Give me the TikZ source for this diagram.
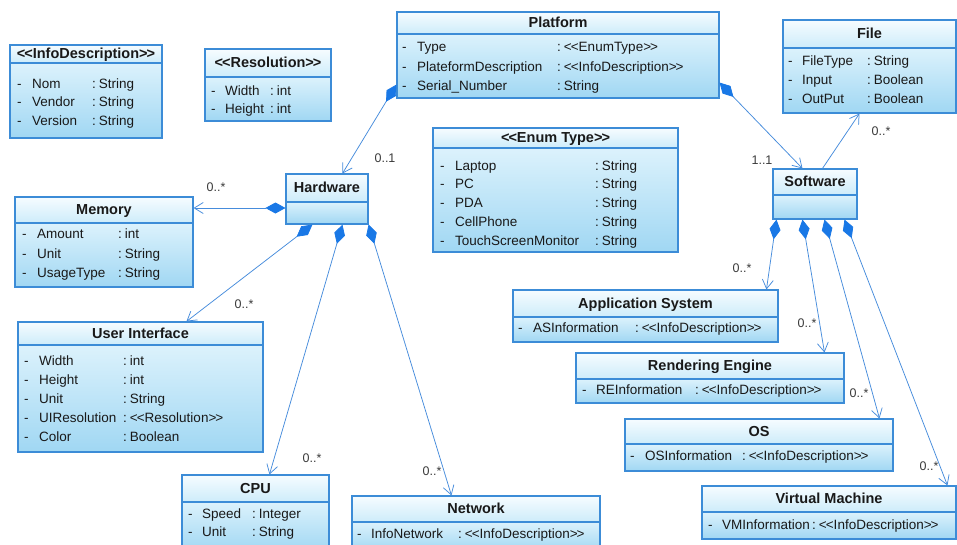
\documentclass[tikz,border=0pt]{standalone}
\usepackage{fontspec}
\setmainfont{Liberation Sans}
\usetikzlibrary{arrows.meta,fit}
\definecolor{bordc}{RGB}{60,140,215}
\definecolor{linec}{RGB}{70,140,220}
\definecolor{diamc}{RGB}{25,120,230}
\definecolor{hdtop}{RGB}{246,252,255}
\definecolor{hdbot}{RGB}{205,236,250}
\definecolor{bdtop}{RGB}{220,242,252}
\definecolor{bdbot}{RGB}{160,215,243}
\definecolor{txtc}{RGB}{25,25,25}
\tikzset{
 classbox/.style={draw=bordc, line width=1.1pt, inner sep=0pt},
 titletxt/.style={font=\fontsize{14.5}{16}\selectfont\bfseries, text=txtc, inner sep=0pt, text height=10.5pt, text depth=3pt},
 rowtxt/.style={font=\fontsize{13.5}{15}\selectfont, text=txtc, anchor=west, inner sep=0pt, text height=9.8pt, text depth=2.6pt},
 multtxt/.style={font=\fontsize{12.5}{14}\selectfont, text=txtc!85, inner sep=0pt},
 comp/.style={draw=linec, line width=0.75pt, {Diamond[length=20pt,width=11pt,color=diamc,fill=diamc]}-{Straight Barb[length=9pt,width=11pt,color=linec]}},
 assoc/.style={draw=linec, line width=0.75pt, -{Straight Barb[length=9pt,width=11pt,color=linec]}},
}
\newcommand\ltlt{<\kern-1pt<}
\newcommand\gtgt{>\kern-1pt>}
\newcommand\umlclass[7]{%
  \shade[top color=hdtop,bottom color=hdbot] (#2,#3) rectangle (#4,#5);
  \shade[top color=bdtop,bottom color=bdbot] (#2,#5) rectangle (#4,#6);
  \node[classbox, fit={(#2,#3) (#4,#6)}] (#1) {};
  \draw[bordc, line width=1.1pt] (#2,#5) -- (#4,#5);
  \node[titletxt] (#1-title) at ({(#2+#4)/2},{(#3+#5)/2+1}) {#7};
}
\newcommand\attr[7]{%
  \node[rowtxt] (#1-d) at (#3,#2) {-};
  \node[rowtxt] (#1-n) at (#4,#2) {#6};
  \node[rowtxt] (#1-t) at (#5,#2) {:\hspace{3pt}#7};
}
\begin{document}
\begin{tikzpicture}[x=1pt,y=-1pt]
\useasboundingbox (0,0) rectangle (957,544);
\clip (0,0) rectangle (957,544);
\fill[white] (0,0) rectangle (957,544);

% InfoDescription
\umlclass{info}{10}{45}{162}{63}{138}{\ltlt InfoDescription\gtgt}
\attr{info1}{85}{17}{32}{92}{Nom}{String}
\attr{info2}{103}{17}{32}{92}{Vendor}{String}
\attr{info3}{122}{17}{32}{92}{Version}{String}

% Resolution
\umlclass{res}{205}{49}{331}{77}{121}{\ltlt Resolution\gtgt}
\attr{res1}{92}{211}{225}{270}{Width}{int}
\attr{res2}{110}{211}{225}{270}{Height}{int}

% Platform
\umlclass{plat}{397}{12}{719}{34}{98}{Platform}
\attr{plat1}{48}{402}{417}{557}{Type}{\ltlt EnumType\gtgt}
\attr{plat2}{68}{402}{417}{557}{PlateformDescription}{\ltlt InfoDescription\gtgt}
\attr{plat3}{87}{402}{417}{557}{Serial\_Number}{String}

% File
\umlclass{file}{783}{20}{956}{48}{113}{File}
\attr{file1}{62}{788}{802}{867}{FileType}{String}
\attr{file2}{81}{788}{802}{867}{Input}{Boolean}
\attr{file3}{100}{788}{802}{867}{OutPut}{Boolean}

% EnumType
\umlclass{enum}{433}{128}{678}{148}{252}{\ltlt Enum Type\gtgt}
\attr{enum1}{167}{440}{455}{595}{Laptop}{String}
\attr{enum2}{185}{440}{455}{595}{PC}{String}
\attr{enum3}{204}{440}{455}{595}{PDA}{String}
\attr{enum4}{223}{440}{455}{595}{CellPhone}{String}
\attr{enum5}{242}{440}{455}{595}{TouchScreenMonitor}{String}

% Hardware, Software
\umlclass{hw}{286}{174}{368}{202}{224}{Hardware}
\umlclass{sw}{773}{169}{857}{195}{219}{Software}

% Memory
\umlclass{mem}{15}{197}{193}{223}{287}{Memory}
\attr{mem1}{235}{22}{37}{118}{Amount}{int}
\attr{mem2}{255}{22}{37}{118}{Unit}{String}
\attr{mem3}{274}{22}{37}{118}{UsageType}{String}

% User Interface
\umlclass{ui}{18}{322}{263}{345}{452}{User Interface}
\attr{ui1}{362}{24}{39}{123}{Width}{int}
\attr{ui2}{381}{24}{39}{123}{Height}{int}
\attr{ui3}{400}{24}{39}{123}{Unit}{String}
\attr{ui4}{419}{24}{39}{123}{UIResolution}{\ltlt Resolution\gtgt}
\attr{ui5}{438}{24}{39}{123}{Color}{Boolean}

% CPU
\umlclass{cpu}{182}{475}{329}{502}{552}{CPU}
\attr{cpu1}{515}{188}{202}{252}{Speed}{Integer}
\attr{cpu2}{533}{188}{202}{252}{Unit}{String}

% Network
\umlclass{net}{352}{496}{600}{522}{552}{Network}
\attr{net1}{535}{357}{371}{458}{InfoNetwork}{\ltlt InfoDescription\gtgt}

% Application System
\umlclass{app}{513}{290}{778}{317}{342}{Application System}
\attr{app1}{329}{518}{533}{635}{ASInformation}{\ltlt InfoDescription\gtgt}

% Rendering Engine
\umlclass{re}{576}{353}{844}{379}{403}{Rendering Engine}
\attr{re1}{391}{582}{596}{695}{REInformation}{\ltlt InfoDescription\gtgt}

% OS
\umlclass{os}{625}{419}{893}{444}{471}{OS}
\attr{os1}{457}{630}{645}{742}{OSInformation}{\ltlt InfoDescription\gtgt}

% Virtual Machine
\umlclass{vm}{702}{486}{956}{512}{539}{Virtual Machine}
\attr{vm1}{526}{708}{722}{812}{VMInformation}{\ltlt InfoDescription\gtgt}

% connectors
\coordinate (hwL) at ([yshift=-9pt]hw.west);
\draw[comp] ([yshift=14pt]plat.south west) -- ([xshift=57pt]hw.north west);
\draw[comp] ([yshift=16pt]plat.south east) -- ([xshift=30pt]sw.north west);
\draw[comp] (hwL) -- (hwL -| mem.east);
\draw[comp] ([xshift=27pt]hw.south west) -- ([xshift=169pt]ui.north west);
\draw[comp] ([xshift=57pt]hw.south west) -- ([xshift=88pt]cpu.north west);
\draw[comp] (hw.south east) -- ([xshift=100pt]net.north west);
\draw[assoc] ([xshift=50pt]sw.north west) -- ([xshift=77pt]file.south west);
\draw[comp] ([xshift=4pt]sw.south west) -- ([xshift=254pt]app.north west);
\draw[comp] ([xshift=30pt]sw.south west) -- ([xshift=249pt]re.north west);
\draw[comp] ([xshift=52pt]sw.south west) -- ([xshift=255pt]os.north west);
\draw[comp] ([xshift=72pt]sw.south west) -- ([xshift=246pt]vm.north west);

% multiplicities
\node[multtxt] (m-hw) at (385,158) {0..1};
\node[multtxt] (m-sw) at (762,160) {1..1};
\node[multtxt] (m-mem) at (216,187) {0..*};
\node[multtxt] (m-ui) at (244,304) {0..*};
\node[multtxt] (m-cpu) at (312,458) {0..*};
\node[multtxt] (m-net) at (432,471) {0..*};
\node[multtxt] (m-file) at (881,131) {0..*};
\node[multtxt] (m-app) at (742,268) {0..*};
\node[multtxt] (m-re) at (807,323) {0..*};
\node[multtxt] (m-os) at (859,393) {0..*};
\node[multtxt] (m-vm) at (929,466) {0..*};
\end{tikzpicture}
\end{document}
